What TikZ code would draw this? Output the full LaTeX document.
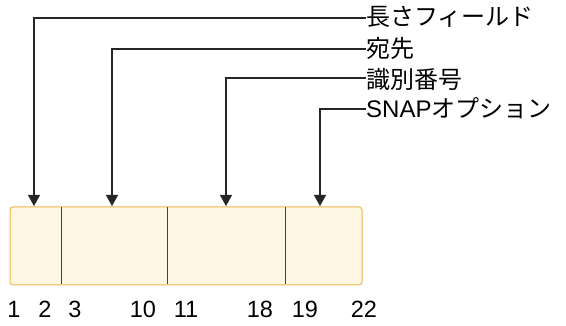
\documentclass[tikz,border=0pt]{standalone}
\usepackage{fontspec}
\setmainfont{Liberation Sans}
\newfontfamily\jp{Noto Sans CJK JP}
\usetikzlibrary{arrows.meta}
\definecolor{boxfill}{HTML}{FDF6E3}
\definecolor{boxline}{HTML}{F0B44A}
\begin{document}
\begin{tikzpicture}[x=1pt,y=-1pt,
  lbl/.style={anchor=west,inner sep=0pt,font=\fontsize{24}{26}\selectfont},
  num/.style={anchor=base,inner sep=0pt,font=\fontsize{23.5}{26}\selectfont},
  conn/.style={draw=black!85,line width=1.1pt,-{Triangle[length=11pt,width=12pt]}}]
\useasboundingbox (0,0) rectangle (566,326);
% box
\draw[boxline,fill=boxfill,line width=1pt,rounded corners=3pt] (10,207) rectangle (362,285);
\foreach \x in {61,167,285} \draw[black!75,line width=1pt] (\x,207.5) -- (\x,284.5);
% targets
\coordinate (t1) at (34,206);
\coordinate (t2) at (112,206);
\coordinate (t3) at (226,206);
\coordinate (t4) at (320,206);
% labels
\node[lbl] (l1) at (366,17) {\jp 長さフィールド};
\node[lbl] (l2) at (366,48) {\jp 宛先};
\node[lbl] (l3) at (366,79) {\jp 識別番号};
\node[lbl] (l4) at (366,108) {SNAP\jp オプション};
\draw[conn] (l1.west|-0,18) -| (t1);
\draw[conn] (l2.west|-0,49) -| (t2);
\draw[conn] (l3.west|-0,78) -| (t3);
\draw[conn] (l4.west|-0,109) -| (t4);
% numbers
\node[num] (n1) at (14,318) {1};
\node[num] (n2) at (45,318) {2};
\node[num] (n3) at (75,318) {3};
\node[num] (n4) at (143,318) {10};
\node[num] (n5) at (186,318) {11};
\node[num] (n6) at (260,318) {18};
\node[num] (n7) at (305,318) {19};
\node[num] (n8) at (364,318) {22};
\end{tikzpicture}
\end{document}
